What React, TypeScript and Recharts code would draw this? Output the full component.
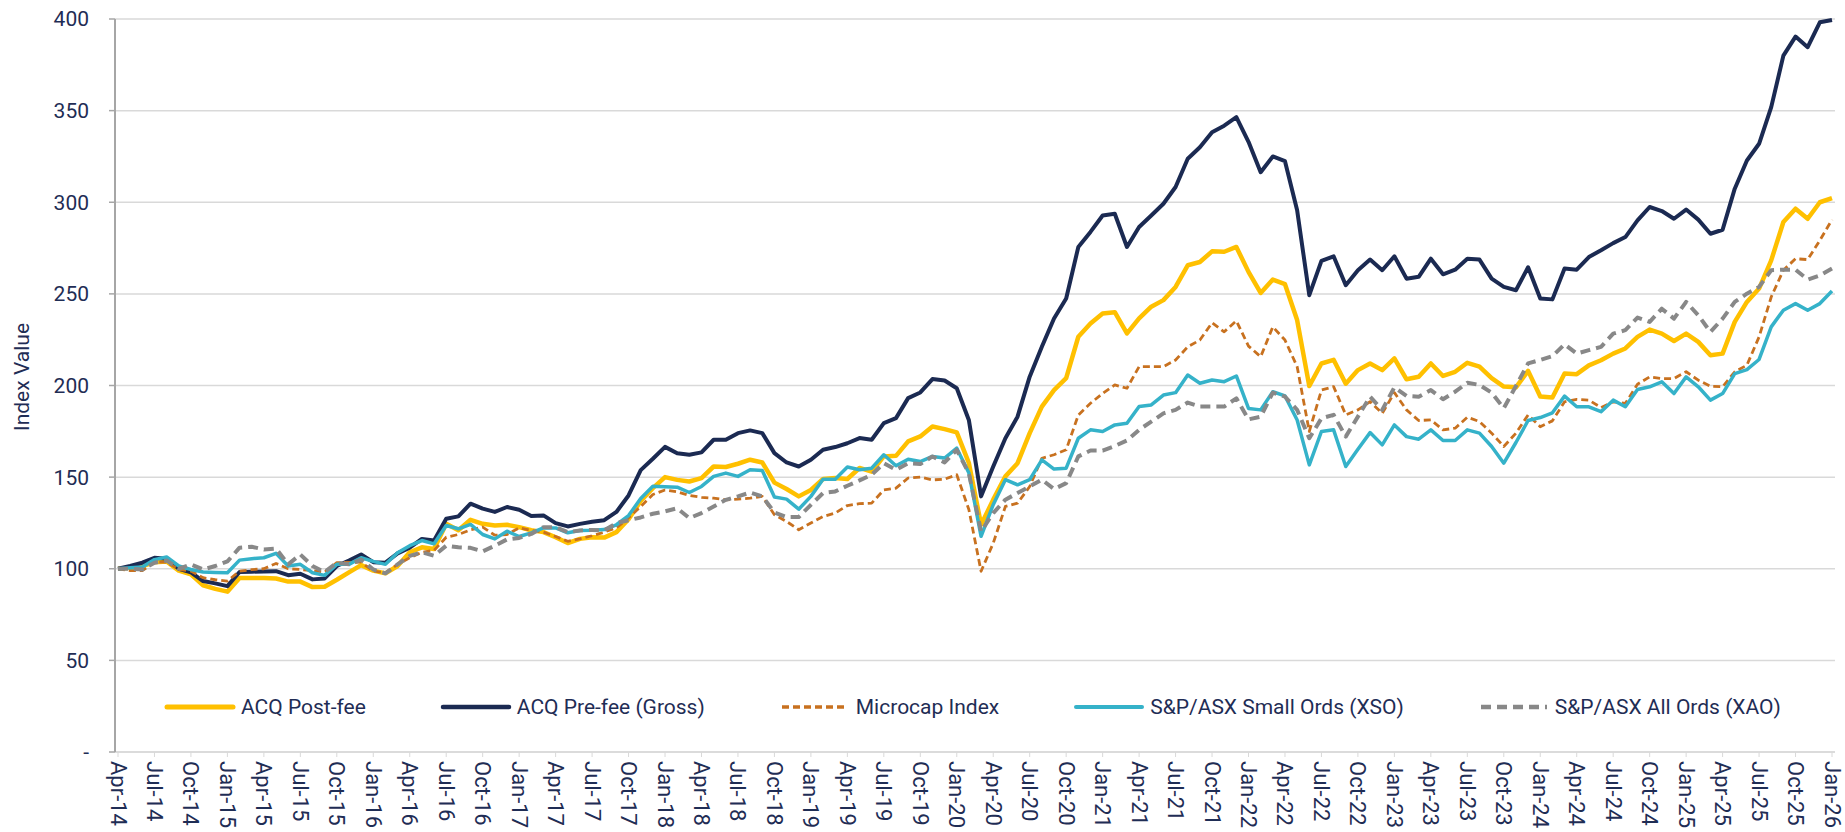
import React from 'react';
import { LineChart, Line, XAxis, YAxis, CartesianGrid, Legend } from 'recharts';

// page has an 8px body margin by default; the chart fills the window
document.body.style.margin = '0';

const NAVY_TEXT = '#1F2D55';

const MONTH_NAMES = ['Jan', 'Feb', 'Mar', 'Apr', 'May', 'Jun', 'Jul', 'Aug', 'Sep', 'Oct', 'Nov', 'Dec'];

// Apr-14 .. Jan-26, monthly
const MONTHS = Array.from({ length: 142 }, (_, i) => {
  const k = i + 3;
  return `${MONTH_NAMES[k % 12]}-${14 + Math.floor(k / 12)}`;
});

const TICK_LABELS = [
  'Apr-14', 'Jul-14', 'Oct-14', 'Jan-15', 'Apr-15', 'Jul-15', 'Oct-15', 'Jan-16',
  'Apr-16', 'Jul-16', 'Oct-16', 'Jan-17', 'Apr-17', 'Jul-17', 'Oct-17', 'Jan-18',
  'Apr-18', 'Jul-18', 'Oct-18', 'Jan-19', 'Apr-19', 'Jul-19', 'Oct-19', 'Jan-20',
  'Apr-20', 'Jul-20', 'Oct-20', 'Jan-21', 'Apr-21', 'Jul-21', 'Oct-21', 'Jan-22',
  'Apr-22', 'Jul-22', 'Oct-22', 'Jan-23', 'Apr-23', 'Jul-23', 'Oct-23', 'Jan-24',
  'Apr-24', 'Jul-24', 'Oct-24', 'Jan-25', 'Apr-25', 'Jul-25', 'Oct-25', 'Jan-26',
];

const Y_TICKS = [0, 50, 100, 150, 200, 250, 300, 350, 400];

const ACQ_POST_FEE = [
  100, 100.5, 101.5, 103.5, 104, 99, 97, 91, 89, 87.5, 95, 95, 95, 94.7, 93, 93, 90, 90.2, 94, 98,
  102, 99, 97.5, 101.5, 109, 111.7, 110.8, 124.5, 121, 126.7, 124.5, 123.6, 124, 122.7, 121, 120, 117.2, 114, 116.3, 117.2,
  117, 120, 127, 137, 144, 150, 148.5, 147.6, 149.5, 155.8, 155.5, 157.3, 159.5, 158, 147, 143.5, 139.5, 143, 149, 149.5,
  149, 155, 153, 161.3, 161.6, 169.5, 172.2, 177.6, 176.2, 174.4, 157.6, 124, 137.7, 150.4, 157.6, 174, 188.5, 197.5, 204, 226.6,
  233.8, 239.3, 240, 228.4, 236.6, 243, 246.6, 253.8, 265.6, 267.4, 273.2, 273, 275.6, 262, 250.5, 257.8, 255.3, 235.7, 199.7, 212,
  214, 201, 208.4, 212, 208.4, 214.8, 203.4, 204.8, 212, 205.2, 207.5, 212.4, 210.3, 204, 199.4, 199, 208, 194, 193.5, 206.5,
  206.2, 211, 213.8, 217.4, 220.2, 226.5, 230.5, 228.3, 224.3, 228.3, 223.8, 216.5, 217.4, 234.7, 245.6, 252.9, 268.3, 289.2, 296.5, 291,
  300, 302.3,
];

const ACQ_PRE_FEE = [
  100, 101.5, 103.3, 106, 105.5, 100, 98, 93.3, 92, 90.5, 98.2, 98.4, 98.5, 98.7, 96.5, 97.3, 94.2, 94.7, 101.5, 104.5,
  107.8, 103.6, 103.3, 108.4, 111.5, 116.3, 115.4, 127.3, 128.6, 135.5, 132.8, 131, 133.7, 132.2, 128.8, 129.1, 124.9, 123.1, 124.5, 125.6,
  126.5, 131, 140, 153.8, 160, 166.5, 163, 162.2, 163.5, 170.4, 170.4, 174, 175.5, 174, 163.1, 158, 155.8, 159.5, 164.9, 166.4,
  168.5, 171.3, 170.4, 179.5, 182.2, 193.1, 196.2, 203.5, 202.7, 198.5, 181, 139.5, 155.8, 171.2, 183, 204.8, 221.1, 236.6, 247.5, 275.6,
  283.8, 292.8, 293.7, 275.6, 286.5, 292.8, 299.2, 308.3, 323.7, 330, 338.2, 341.8, 346.4, 333, 316.4, 325, 322.4, 295.6, 249.3, 268,
  270.5, 254.7, 262.9, 268.7, 262.9, 270.5, 258.3, 259.3, 269.2, 260.7, 263.2, 269.2, 268.7, 258.3, 253.8, 252, 264.5, 247.5, 247, 263.8,
  263.2, 270.1, 273.8, 277.7, 281, 290.1, 297.4, 295.2, 291, 296, 290.5, 282.8, 285, 307.4, 322.8, 331.9, 351.9, 380, 390.4, 384.6,
  398.2, 399.5,
];

const MICROCAP = [
  100, 99, 99, 103.6, 103.6, 99.6, 98.7, 95.1, 94, 93.3, 98.7, 99.5, 100, 102.9, 100, 99.6, 99, 98.2, 103.3, 103.5,
  103.6, 98.7, 97.8, 102.4, 106, 109, 110, 117.2, 118.7, 121.2, 122.7, 118.3, 118.7, 122.3, 120.9, 120, 117.6, 115, 116.3, 118,
  120, 122.3, 127.8, 134, 140.5, 143, 142, 140, 139, 138.5, 137.6, 138, 138.5, 139.5, 129.5, 125.8, 121.3, 125, 128.5, 130.4,
  134.5, 135.5, 135.8, 143, 144, 149.5, 150, 148.5, 148.9, 151.3, 132.2, 98.6, 114, 134, 135.8, 144.9, 160.3, 162.2, 164.9, 183.9,
  190.3, 195.7, 200.3, 198.5, 210.3, 210.3, 210.3, 213.9, 221.1, 224.8, 234.2, 229.3, 235.3, 221.5, 215.7, 232, 224.8, 210.3, 174.9, 197.5,
  199.4, 184, 186.7, 191.2, 184.8, 196.1, 186.7, 180.9, 181.2, 175.8, 176.7, 182.7, 180.3, 174, 166.7, 174, 183.9, 177.5, 180.7, 191.1,
  192.4, 192, 188, 191.1, 190.2, 200.7, 204.7, 203.8, 203.8, 207.5, 202.9, 199.6, 199.3, 207.5, 211.1, 226.5, 248.3, 262.9, 269.2, 268.7,
  279.2, 290.5,
];

const SMALL_ORDS = [
  100, 100.5, 101, 105, 106.4, 101.5, 99.6, 98.2, 98, 97.8, 104.7, 105.5, 106, 108.4, 101.5, 102.4, 97.8, 96.4, 102.4, 102.4,
  106, 104, 102.4, 108.7, 112.6, 115.4, 113.6, 123.6, 121.8, 124.2, 118.7, 116.3, 120.5, 117.6, 119.6, 122.3, 122.3, 119.6, 120.9, 121,
  121.4, 124, 129, 138.3, 145, 144.8, 144.5, 141.6, 144.9, 150.4, 152.2, 150.4, 154, 153.6, 139.1, 138, 132.5, 139.5, 148.9, 148.9,
  155.5, 154, 154.9, 162.2, 156.2, 159.8, 158.5, 161.3, 160.4, 165.8, 152.2, 117.7, 135, 148.6, 145.8, 148.6, 159.4, 154.4, 154.9, 171.2,
  175.8, 174.9, 178.5, 179.4, 188.5, 189.4, 194.8, 196.1, 205.7, 201.2, 203, 202.1, 205.2, 187.5, 186.7, 196.6, 194.3, 181.2, 156.7, 174.9,
  175.8, 155.8, 165.2, 174.3, 167.6, 178.5, 172.1, 170.7, 175.8, 170, 170, 175.8, 174, 166.7, 157.6, 168.9, 180.9, 182.5, 185.1, 194.2,
  188.4, 188.4, 185.7, 192, 188.4, 197.8, 199.3, 202, 195.6, 204.7, 199.3, 192, 195.6, 206.5, 208.7, 214.2, 232, 241.1, 244.7, 241.1,
  244.7, 251.6,
];

const ALL_ORDS = [
  100, 100, 99.6, 103.3, 104.5, 100, 102.4, 99.6, 101.5, 104, 111.5, 112, 110.5, 111, 102.4, 107.8, 101.5, 98.2, 103.3, 102.4,
  105, 99.6, 97.5, 102.4, 107, 109, 107.1, 112.6, 111.7, 111.4, 109.5, 112.6, 116, 116.8, 119, 122.7, 122.7, 120, 120.9, 121.2,
  120.9, 124.9, 126.5, 128, 130, 131.3, 133, 127.6, 130.4, 134, 137.6, 139.5, 141.6, 139.5, 130.7, 128.2, 128.2, 134.9, 141.3, 142.2,
  145.3, 148.2, 151.3, 157.6, 154, 157.6, 157.1, 161.3, 158, 164.9, 152, 120.4, 130.4, 137.7, 141.3, 144.9, 148.6, 143.5, 146.7, 161.3,
  164.5, 164.5, 167, 170, 175.8, 180.3, 184.8, 186.7, 190.7, 188.5, 188.5, 188.5, 193, 181.5, 183, 196.1, 193.9, 186.7, 171.2, 182.1,
  184, 172.1, 183, 193.9, 186.7, 199, 194.3, 193.9, 197.5, 192.5, 196.6, 201.5, 200.3, 196.1, 187.6, 199.7, 212.1, 213.9, 216, 222.5,
  217.4, 219.3, 221.1, 228.3, 230.2, 237.1, 234.7, 241.9, 236.5, 245.6, 238.3, 229.2, 236.5, 245.6, 250.1, 253.8, 262.9, 263.2, 263.2, 257.8,
  260.1, 263.8,
];

const SERIES = [
  { key: 'post', name: 'ACQ Post-fee', color: '#FFC000', width: 4.5, dash: undefined as string | undefined },
  { key: 'pre', name: 'ACQ Pre-fee (Gross)', color: '#1B2A52', width: 4, dash: undefined },
  { key: 'micro', name: 'Microcap Index', color: '#C8711F', width: 2.8, dash: '7 4' },
  { key: 'xso', name: 'S&P/ASX Small Ords (XSO)', color: '#35B2C9', width: 3.5, dash: undefined },
  { key: 'xao', name: 'S&P/ASX All Ords (XAO)', color: '#888888', width: 4, dash: '10 6' },
];

const data = MONTHS.map((month, i) => ({
  month,
  post: ACQ_POST_FEE[i],
  pre: ACQ_PRE_FEE[i],
  micro: MICROCAP[i],
  xso: SMALL_ORDS[i],
  xao: ALL_ORDS[i],
}));

const XTick = (props: any) => {
  const { x, y, payload } = props;
  return (
    <text
      transform={`translate(${x},${y + 2}) rotate(90)`}
      textAnchor="start"
      dominantBaseline="central"
      fontFamily="Roboto"
      fontSize={22}
      fill={NAVY_TEXT}
    >
      {payload.value}
    </text>
  );
};

const AxisTitle = () => (
  <text
    transform="translate(22,377) rotate(-90)"
    textAnchor="middle"
    dominantBaseline="central"
    fontFamily="Roboto"
    fontSize={21}
    fill={NAVY_TEXT}
  >
    Index Value
  </text>
);

const renderLegend = () => (
  <div
    style={{
      display: 'flex',
      alignItems: 'center',
      paddingLeft: 164,
      gap: 74,
      fontFamily: 'Roboto',
      fontSize: 21,
      color: NAVY_TEXT,
      whiteSpace: 'nowrap',
    }}
  >
    {SERIES.map((s) => (
      <div key={s.key} style={{ display: 'flex', alignItems: 'center' }}>
        <svg width={72} height={10}>
          <line x1={3} y1={5} x2={69} y2={5} stroke={s.color} strokeWidth={s.width + 0.5} strokeDasharray={s.dash} strokeLinecap={s.dash ? 'butt' : 'round'} />
        </svg>
        <span style={{ marginLeft: 5 }}>{s.name}</span>
      </div>
    ))}
  </div>
);

export default function App() {
  return (
    <LineChart width={1845} height={832} data={data} margin={{ top: 19, right: 10, left: 0, bottom: 0 }}>
      <CartesianGrid vertical={false} stroke="#D9D9D9" strokeWidth={1.5} />
      <XAxis
        dataKey="month"
        ticks={TICK_LABELS}
        interval={0}
        height={80}
        tick={<XTick />}
        tickSize={5}
        axisLine={{ stroke: '#D9D9D9', strokeWidth: 1.5 }}
        tickLine={{ stroke: '#D9D9D9' }}
        padding={{ left: 3, right: 3 }}
      />
      <YAxis
        domain={[0, 400]}
        ticks={Y_TICKS}
        interval={0}
        width={115}
        tickSize={6}
        tickMargin={20}
        tickFormatter={(v: number) => (v === 0 ? '-' : String(v))}
        tick={{ fontFamily: 'Roboto', fontSize: 21, fill: NAVY_TEXT }}
        axisLine={{ stroke: '#A6A6A6', strokeWidth: 2 }}
        tickLine={{ stroke: '#A6A6A6', strokeWidth: 1.5 }}
        label={<AxisTitle />}
      />
      <Legend
        verticalAlign="middle"
        content={renderLegend}
        wrapperStyle={{ top: 695, left: 0, width: 1845 }}
      />
      {SERIES.map((s) => (
        <Line
          key={s.key}
          type="linear"
          dataKey={s.key}
          name={s.name}
          stroke={s.color}
          strokeWidth={s.width}
          strokeDasharray={s.dash}
          dot={false}
          activeDot={false}
          isAnimationActive={false}
          strokeLinejoin="round"
        />
      ))}
    </LineChart>
  );
}
